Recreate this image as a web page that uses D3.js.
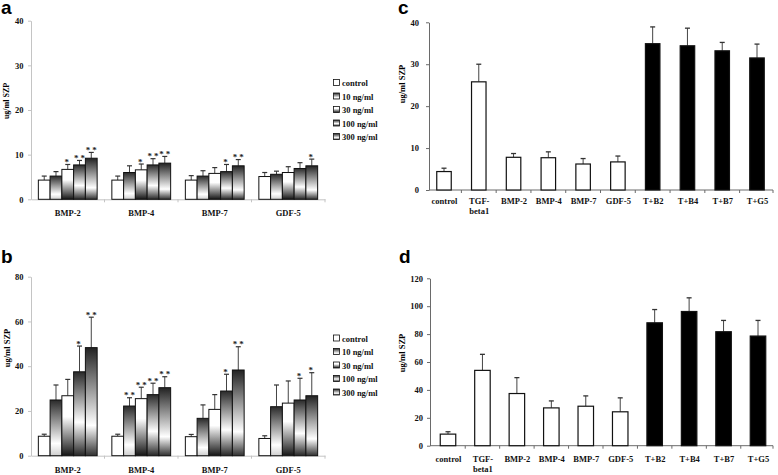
<!DOCTYPE html>
<html>
<head>
<meta charset="utf-8">
<script src="https://cdn.jsdelivr.net/npm/d3@7"></script>
<style>
body { margin: 0; background: #fff; }
text { font-family: "Liberation Serif", serif; font-weight: bold; }
</style>
</head>
<body>
<div id="chart"></div>
<script>
// doses and growth factors for panels a and b
var doses = ["control", "10 ng/ml", "30 ng/ml", "100 ng/ml", "300 ng/ml"];
var factors = ["BMP-2", "BMP-4", "BMP-7", "GDF-5"];

// panel a: one row per factor, one value per dose
var aMean = [[4.3, 5.2, 6.7, 7.7, 9.2], [4.3, 6.0, 6.6, 7.7, 8.1], [4.3, 5.2, 5.8, 6.2, 7.5], [5.1, 5.6, 6.0, 6.9, 7.5]];
var aSd = [[0.9, 1.0, 1.1, 1.0, 1.3], [0.9, 1.5, 1.3, 1.4, 1.5], [1.0, 1.2, 1.3, 1.6, 1.4], [0.9, 0.7, 1.3, 1.3, 1.5]];
var aStars = [["", "", "*", "**", "**"], ["", "", "*", "**", "**"], ["", "", "", "*", "**"], ["", "", "", "", "*"]];
var aTicks = [0, 10, 20, 30, 40];

// panel b
var bMean = [[8.7, 24.9, 26.8, 37.5, 48.3], [8.7, 22.2, 25.5, 27.3, 30.4], [8.5, 16.7, 20.7, 28.9, 38.3], [7.7, 21.9, 23.5, 24.9, 26.8]];
var bSd = [[0.9, 6.7, 7.3, 11.5, 13.6], [0.9, 3.7, 5.1, 5.1, 4.9], [1.0, 6.0, 6.6, 7.5, 10.4], [1.2, 9.7, 9.9, 9.7, 10.3]];
var bStars = [["", "", "", "*", "**"], ["", "**", "**", "**", "**"], ["", "", "", "*", "**"], ["", "", "", "*", "*"]];
var bTicks = [0, 20, 40, 60, 80];

// panels c and d: single treatments and TGF-beta1 combinations
var treatments = ["control", "TGF-beta1", "BMP-2", "BMP-4", "BMP-7", "GDF-5", "T+B2", "T+B4", "T+B7", "T+G5"];
var cMean = [4.4, 25.8, 7.8, 7.7, 6.2, 6.7, 34.9, 34.4, 33.2, 31.5];
var cSd = [0.8, 4.2, 0.9, 1.4, 1.3, 1.4, 4.0, 4.2, 2.0, 3.3];
var cTicks = [0, 10, 20, 30, 40];
var dMean = [8.3, 54.0, 37.4, 27.1, 28.3, 24.3, 88.1, 96.2, 81.7, 78.6];
var dSd = [1.7, 11.5, 11.4, 5.0, 7.4, 10.0, 9.5, 9.8, 8.1, 11.2];
var dTicks = [0, 20, 40, 60, 80, 100, 120];

var svg = d3.select("#chart").append("svg")
    .attr("width", 778)
    .attr("height", 475);

// vertical gradients, one per dose (control stays white)
var gradStops = [
  null,
  [[0, "#2a2a2a"], [0.78, "#ffffff"], [1, "#cfcfcf"]],
  [[0, "#ffffff"], [0.35, "#ffffff"], [1, "#151515"]],
  [[0, "#2a2a2a"], [0.6, "#ffffff"], [1, "#262626"]],
  [[0, "#222222"], [0.72, "#ffffff"], [1, "#303030"]]
];
var defs = svg.append("defs");
gradStops.forEach(function(stops, i) {
  if (!stops) return;
  var g = defs.append("linearGradient")
      .attr("id", "dose" + i)
      .attr("x1", 0).attr("y1", 0).attr("x2", 0).attr("y2", 1);
  g.selectAll("stop").data(stops).enter().append("stop")
      .attr("offset", function(d) { return d[0]; })
      .attr("stop-color", function(d) { return d[1]; });
});
function doseFill(i) { return i == 0 ? "#fff" : "url(#dose" + i + ")"; }

function panelLetter(t, x, y) {
  svg.append("text").text(t)
      .attr("x", x).attr("y", y)
      .style("font-family", "'Liberation Sans', Arial, sans-serif")
      .attr("font-size", "19px");
}

function yLabel(x, y, size) {
  svg.append("text").text("ug/ml SZP")
      .attr("transform", "translate(" + x + "," + y + ") rotate(-90)")
      .attr("text-anchor", "middle")
      .attr("font-size", size);
}

function styleAxis(g, col) {
  g.selectAll(".domain").attr("stroke", col);
  g.selectAll(".tick line").attr("stroke", col);
  g.selectAll(".tick text").attr("fill", "#111")
      .style("font-family", "'Liberation Serif', serif")
      .attr("font-size", "8.5px").attr("font-weight", "bold");
}

// grouped dose-response panel (a, b)
function grouped(p) {
  var x0 = d3.scaleBand().domain(factors).range([31, 325]).paddingInner(0.2).paddingOuter(0.1);
  var x1 = d3.scaleBand().domain(d3.range(doses.length)).range([0, x0.bandwidth()]);
  var y = d3.scaleLinear().domain([0, p.ticks[p.ticks.length - 1]]).range([p.bottom, p.top]);
  var axisCol = "#c4c4c4";

  var gy = svg.append("g").attr("transform", "translate(31,0)")
      .call(d3.axisLeft(y).tickValues(p.ticks).tickSize(3).tickSizeOuter(0).tickPadding(4.5));
  styleAxis(gy, axisCol);

  var gx = svg.append("g").attr("transform", "translate(0," + p.bottom + ")")
      .call(d3.axisBottom(x0).tickSize(0).tickSizeOuter(0).tickPadding(11));
  styleAxis(gx, axisCol);
  // little ticks between groups
  var edges = factors.slice(1).map(function(f) { return x0(f) - x0.step() * 0.1; }).concat([325]);
  gx.selectAll(".edge").data(edges).enter().append("line")
      .attr("x1", function(d) { return d; }).attr("x2", function(d) { return d; })
      .attr("y1", 0).attr("y2", 3).attr("stroke", axisCol);

  var groups = svg.selectAll(null).data(factors).enter().append("g")
      .attr("transform", function(f) { return "translate(" + x0(f) + ",0)"; });

  var bars = groups.selectAll("g.bar")
      .data(function(f, gi) {
        return doses.map(function(ds, i) {
          return { i: i, m: p.mean[gi][i], sd: p.sd[gi][i], star: p.stars[gi][i] };
        });
      })
      .enter().append("g");

  bars.append("line")
      .attr("x1", function(d) { return x1(d.i) + x1.bandwidth() / 2; })
      .attr("x2", function(d) { return x1(d.i) + x1.bandwidth() / 2; })
      .attr("y1", function(d) { return y(d.m); })
      .attr("y2", function(d) { return y(d.m + d.sd); })
      .attr("stroke", "#444");
  bars.append("line")
      .attr("x1", function(d) { return x1(d.i) + x1.bandwidth() / 2 - 2.5; })
      .attr("x2", function(d) { return x1(d.i) + x1.bandwidth() / 2 + 2.5; })
      .attr("y1", function(d) { return y(d.m + d.sd); })
      .attr("y2", function(d) { return y(d.m + d.sd); })
      .attr("stroke", "#333").attr("stroke-width", 1.2);
  bars.append("rect")
      .attr("x", function(d) { return x1(d.i); })
      .attr("y", function(d) { return y(d.m); })
      .attr("width", x1.bandwidth())
      .attr("height", function(d) { return y(0) - y(d.m); })
      .attr("fill", function(d) { return doseFill(d.i); })
      .attr("stroke", "#111").attr("stroke-width", 1);
  // significance marks sit a few px above the cap
  bars.append("text")
      .text(function(d) { return d.star; })
      .attr("x", function(d) { return x1(d.i) + x1.bandwidth() / 2 + (d.star.length > 1 ? 1 : 0); })
      .attr("y", function(d) { return y(d.m + d.sd) + 0.5; })
      .attr("text-anchor", "middle")
      .attr("letter-spacing", "2px")
      .attr("font-size", "9px").attr("fill", "#222");

  // legend
  var leg = svg.selectAll(null).data(doses).enter().append("g")
      .attr("transform", function(d, i) { return "translate(333," + (p.legendY + i * 13.5) + ")"; });
  leg.append("rect")
      .attr("x", 0.5).attr("y", -3.5).attr("width", 6).attr("height", 6)
      .attr("fill", function(d, i) { return doseFill(i); })
      .attr("stroke", "#111").attr("stroke-width", 0.8);
  leg.append("text").text(function(d) { return d; })
      .attr("x", 9).attr("y", 3)
      .attr("font-size", "8.5px").attr("fill", "#111");
}

// single-bar panel (c, d)
function singles(p) {
  var x = d3.scalePoint().domain(treatments).range([p.first, p.last]);
  var y = d3.scaleLinear().domain([0, p.ticks[p.ticks.length - 1]]).range([p.bottom, p.top]);
  var axisCol = "#6a6a6a";
  var w = p.barW;

  var gy = svg.append("g").attr("transform", "translate(" + p.axisX + ",0)")
      .call(d3.axisLeft(y).tickValues(p.ticks).tickSize(3).tickSizeOuter(0).tickPadding(p.pad));
  styleAxis(gy, axisCol);

  svg.append("line")
      .attr("x1", p.axisX).attr("x2", 773)
      .attr("y1", p.bottom).attr("y2", p.bottom)
      .attr("stroke", axisCol);
  var gx = svg.append("g").attr("transform", "translate(0," + p.bottom + ")")
      .call(d3.axisBottom(x).tickSize(0).tickPadding(p.labelPad));
  gx.select(".domain").remove();
  styleAxis(gx, axisCol);
  gx.selectAll(".tick text").each(function(d) {
    if (d == "TGF-beta1") {
      var t = d3.select(this).text("");
      t.append("tspan").attr("x", 0).text("TGF-");
      t.append("tspan").attr("x", 0).attr("dy", "1.2em").text("beta1");
    }
  });
  var mids = d3.pairs(treatments).map(function(pr) { return (x(pr[0]) + x(pr[1])) / 2; }).concat([773]);
  gx.selectAll(".edge").data(mids).enter().append("line")
      .attr("x1", function(d) { return d; }).attr("x2", function(d) { return d; })
      .attr("y1", 0).attr("y2", 3).attr("stroke", axisCol);

  var bars = svg.selectAll(null)
      .data(treatments.map(function(t, i) { return { t: t, i: i, m: p.mean[i], sd: p.sd[i] }; }))
      .enter().append("g");
  bars.append("line")
      .attr("x1", function(d) { return x(d.t); }).attr("x2", function(d) { return x(d.t); })
      .attr("y1", function(d) { return y(d.m); })
      .attr("y2", function(d) { return y(d.m + d.sd); })
      .attr("stroke", "#444");
  bars.append("line")
      .attr("x1", function(d) { return x(d.t) - 2.5; }).attr("x2", function(d) { return x(d.t) + 2.5; })
      .attr("y1", function(d) { return y(d.m + d.sd); })
      .attr("y2", function(d) { return y(d.m + d.sd); })
      .attr("stroke", "#333").attr("stroke-width", 1.3);
  bars.append("rect")
      .attr("x", function(d) { return x(d.t) - w / 2; })
      .attr("y", function(d) { return y(d.m); })
      .attr("width", w)
      .attr("height", function(d) { return y(0) - y(d.m); })
      .attr("fill", function(d) { return d.t.indexOf("T+") == 0 ? "#000" : "#fff"; })
      .attr("stroke", "#111").attr("stroke-width", 1.2);
}

grouped({ mean: aMean, sd: aSd, stars: aStars, ticks: aTicks, top: 20.7, bottom: 199.3, legendY: 83 });
grouped({ mean: bMean, sd: bSd, stars: bStars, ticks: bTicks, top: 276.7, bottom: 455.7, legendY: 338.5 });
singles({ mean: cMean, sd: cSd, ticks: cTicks, top: 22.3, bottom: 190, axisX: 429, pad: 7,
          first: 444, last: 757, barW: 14.5, labelPad: 8 });
singles({ mean: dMean, sd: dSd, ticks: dTicks, top: 278.3, bottom: 445.7, axisX: 430, pad: 4,
          first: 448, last: 758, barW: 15.5, labelPad: 10.5 });

yLabel(8.5, 101, "8px");
yLabel(10, 348, "8.5px");
yLabel(405, 84, "8.5px");
yLabel(405, 353, "8.5px");

panelLetter("a", 1, 14);
panelLetter("b", 1, 263);
panelLetter("c", 398, 14);
panelLetter("d", 399, 263);
</script>
</body>
</html>
